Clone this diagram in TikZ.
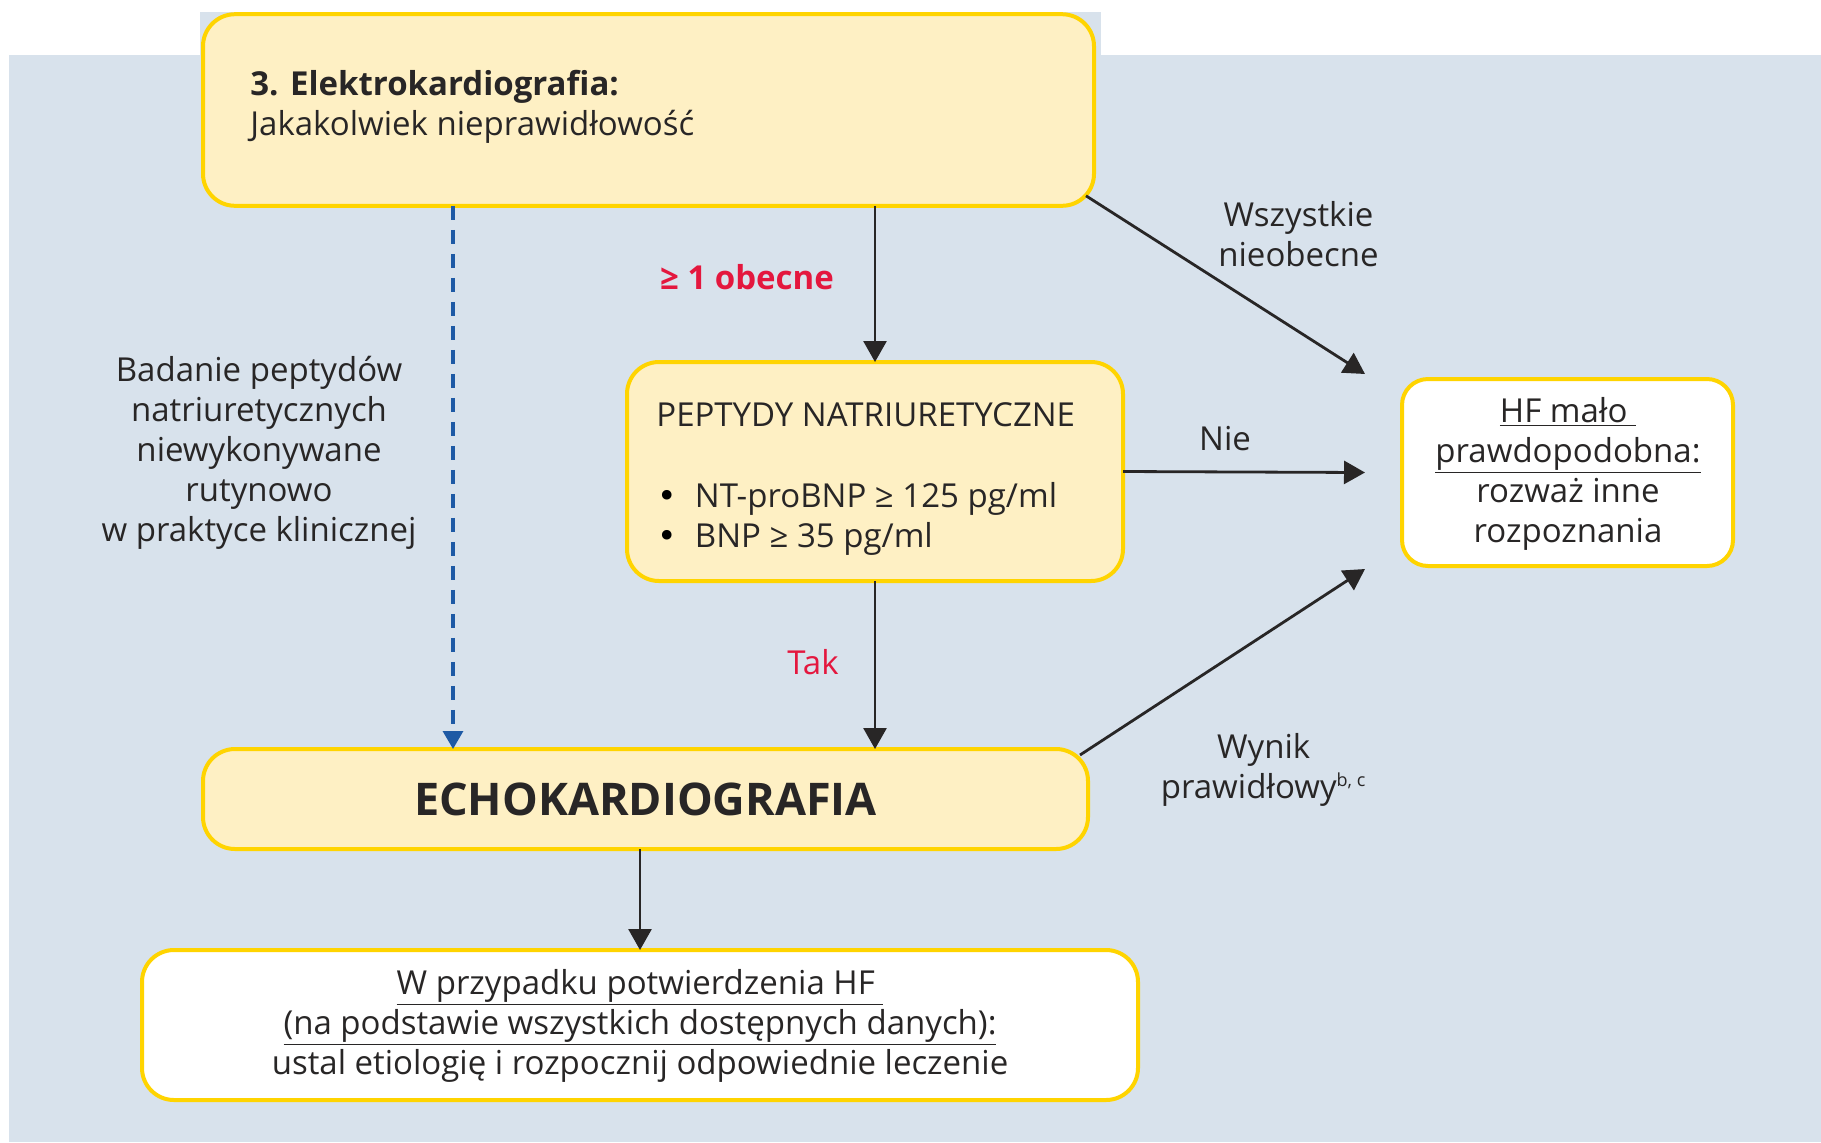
\documentclass[tikz,border=0pt]{standalone}
\usepackage{fontspec}
\setmainfont{Open Sans}
\newfontfamily\dotfont{DejaVu Sans}
\usetikzlibrary{arrows.meta,calc}
\definecolor{panel}{RGB}{216,226,236}
\definecolor{boxfill}{RGB}{254,240,196}
\definecolor{boxline}{RGB}{255,212,0}
\definecolor{txt}{RGB}{40,38,38}
\definecolor{accent}{RGB}{228,23,62}
\definecolor{dashblue}{RGB}{30,90,165}
\newcommand{\bul}{\makebox[19.25pt][l]{\hspace{0.5pt}{\dotfont\color{black}•}}}
\begin{document}
\begin{tikzpicture}[x=0.5pt,y=-0.5pt,
  font=\fontsize{16.5}{20}\selectfont, text=txt,
  ybox/.style={draw=boxline, line width=2pt, fill=boxfill, rounded corners=16pt,
    inner sep=0pt, outer sep=0pt},
  wbox/.style={draw=boxline, line width=2pt, fill=white, rounded corners=13pt,
    inner sep=0pt, outer sep=0pt},
  conn/.style={line width=1.4pt, draw=txt, -{Triangle[length=10.5pt,width=11.5pt]}},
  lbl/.style={align=center, inner sep=0pt},
  redlbl/.style={text=accent, inner sep=0pt}]
\useasboundingbox (0,0) rectangle (1821,1142);
% backgrounds
\fill[white] (0,0) rectangle (1821,1142);
\fill[panel] (9,55) rectangle (1821,1142);
\fill[panel] (200,12) rectangle (1101,55);

% boxes
\node[ybox, minimum width=445.5pt, minimum height=95.8pt] (ecg) at (648.5,110) {};
\node[anchor=west, align=left, inner sep=0pt] (ecgtext) at (250,107)
  {\textbf{3. Elektrokardiografia:}\\Jakakolwiek nieprawidłowość};

\node[ybox, minimum width=248pt, minimum height=109.5pt] (pept) at (875,471.5) {};
\node[anchor=west, align=left, inner sep=0pt] (pepttext) at (656,479.5)
  {PEPTYDY NATRIURETYCZNE\\[20.5pt]
   \bul NT-proBNP ≥ 125 pg/ml\\
   \bul BNP ≥ 35 pg/ml};

\node[wbox, minimum width=165.5pt, minimum height=93.5pt] (hf) at (1567.5,472.5) {};
\node[lbl] (hftext) at (1568,473.5)
  {\underline{HF mało\ }\\\underline{prawdopodobna:}\\rozważ inne\\rozpoznania};

\node[ybox, minimum width=442.5pt, minimum height=50pt] (echo) at (645.5,799)
  {\fontsize{22.5}{26}\selectfont\bfseries ECHOKARDIOGRAFIA};

\node[wbox, rounded corners=16pt, minimum width=498pt, minimum height=75pt] (final) at (640,1025) {};
\node[lbl] (finaltext) at (640,1025.5)
  {\underline{W przypadku potwierdzenia HF\ }\\
   \underline{(na podstawie wszystkich dostępnych danych):}\\
   ustal etiologię i rozpocznij odpowiednie leczenie};

% free ends of connectors
\coordinate (dcol) at (453,0);
\coordinate (hfin1) at ($(hf.north west)+(-37,-5)$);
\coordinate (hfin2) at ($(hf.west)+(-37,0)$);
\coordinate (hfin3) at ($(hf.south west)+(-37,3)$);
\coordinate (ecgout) at ($(ecg.south east)+(-8,-10)$);
\coordinate (echoout) at ($(echo.north east)+(-8,6)$);

% connectors
\draw[conn] (pept.north |- ecg.south) -- (pept.north);
\draw[conn] (pept.south) -- (pept.south |- echo.north);
\draw[conn] (pept.east) -- (hfin2);
\draw[conn] (ecgout) -- (hfin1);
\draw[conn] (echoout) -- (hfin3);
\draw[conn] (echo.south -| final.north) -- (final.north);
\draw[line width=1.6pt, draw=dashblue, dash pattern=on 7pt off 5pt,
  -{Triangle[length=9pt,width=10pt,fill=dashblue]}]
  (ecg.south -| dcol) -- (echo.north -| dcol);

% labels
\node[redlbl, font=\fontsize{16.5}{20}\selectfont\bfseries] (lobecne) at (747,277) {≥ 1 obecne};
\node[redlbl] (ltak) at (813,662) {Tak};
\node[lbl] (lnie) at (1225,439) {Nie};
\node[lbl] (lwsz) at (1298.5,234) {Wszystkie\\nieobecne};
\node[lbl] (lwyn) at (1263.6,770) {Wynik\\prawidłowy\textsuperscript{\fontsize{9}{10}\selectfont b, c}};
\node[lbl] (lbad) at (259,452.5)
  {Badanie peptydów\\natriuretycznych\\niewykonywane\\rutynowo\\w praktyce klinicznej};
\end{tikzpicture}
\end{document}
